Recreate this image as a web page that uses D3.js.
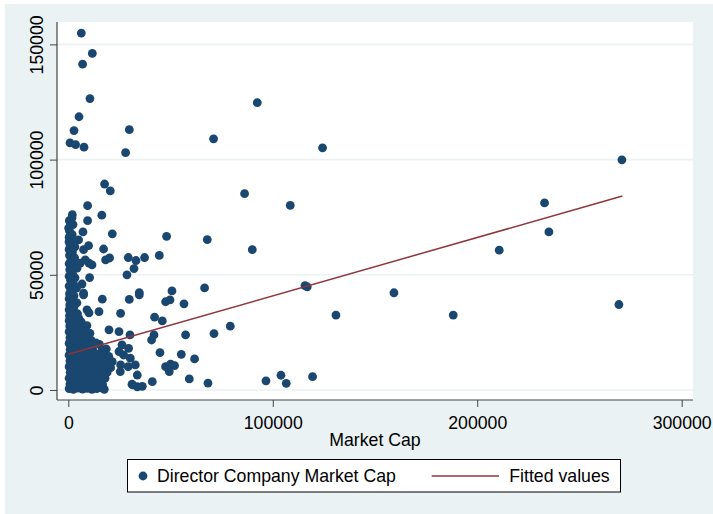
<!DOCTYPE html>
<html>
<head>
<meta charset="utf-8">
<script src="https://cdn.jsdelivr.net/npm/d3@7"></script>
<style>
  html, body { margin: 0; padding: 0; background: #ffffff; }
  svg { display: block; font-family: "Liberation Sans", Arial, sans-serif; }
</style>
</head>
<body>
<div id="chart"></div>
<script>
// [market cap, director company market cap] pairs
// the scattered points outside the crowded corner
const outerPoints = [
  [6360,154900],[11740,146100],[7000,141400],[10600,126500],[5230,118600],[2790,112600],
  [29830,113000],[71050,109000],[830,107300],[3570,106500],[7680,105400],[28020,103000],
  [92420,124700],[124350,105100],[270760,99900],[17750,89400],[20540,86400],[86210,85200],
  [108560,80100],[232910,81200],[9440,80000],[1960,76100],[16380,75900],[1800,74700],
  [9440,73500],[980,72500],[150,70300],[21520,67800],[7190,68600],[48070,66700],
  [67970,65300],[235060,68600],[5040,65200],[340,64300],[9930,62700],[7480,60900],
  [17260,61200],[89980,60900],[210760,60700],[18240,56500],[20200,57300],[29340,57500],
  [33100,56200],[37310,57500],[44500,58400],[8310,56500],[10120,55100],[11590,54300],
  [5870,55100],[32130,52700],[28700,50000],[10420,48800],[6700,46000],[7480,42000],
  [50700,43000],[34720,42300],[66650,44300],[115750,45300],[116870,44800],[16630,39400],
  [29830,39300],[49730,39100],[47580,38300],[56580,37400],[159270,42200],[79220,27700],
  [130900,32500],[188260,32500],[269290,37100],[10120,33500],[15010,34000],[25580,33300],
  [42200,31600],[45970,30000],[19900,26100],[24790,25300],[30170,23900],[41910,23900],
  [40730,21700],[57360,23900],[71250,24500],[44840,16200],[55260,15500],[61760,13500],
  [47580,10100],[50020,11200],[51980,10600],[49390,8000],[33740,6500],[41080,3600],
  [31440,2200],[33740,1400],[36190,1600],[59170,4800],[68310,3000],[96680,4000],
  [104010,6400],[106600,2900],[119460,5800],[25430,8000],[32760,10900],[31150,2500],
  [29490,18100],[27040,15200],[30320,13800],[26260,19600],[21500,12300],[24800,16700],
  [25600,10900],[29300,10100],[9140,34800],[7480,41300],[34720,41300]
];

// the tall column of small market caps
const columnPoints = [
  [500,73500],[2300,71800],[600,69000],[1900,67400],[400,66200],[2600,64600],[900,63000],
  [3200,62100],[400,61000],[2000,59800],[600,58400],[3100,57300],[1200,56100],[400,54800],
  [2500,54000],[4300,52900],[700,52200],[2000,50700],[400,49400],[3300,48700],[1100,47600],
  [2500,46200],[400,45100],[4000,44200],[1500,43300],[600,41800],[2800,40900],[400,39600],
  [1800,38700],[4200,37800],[700,36900],[2700,35900],[400,34800],[1700,33700],[4500,33100],
  [600,32300],[2900,31600],[5200,31000]
];

// the crowded corner near the origin
const cornerPoints = [
  [400,30100],[2200,29800],[4300,30200],[6300,29600],
  [700,27800],[2800,27300],[5000,27700],[7200,27200],[9100,27900],
  [400,25300],[2300,24800],[4500,25200],[6600,24700],[8700,25100],[10600,24600],
  [800,22700],[3000,22300],[5200,22800],[7400,22200],[9600,22600],[11200,21500],
  [400,20200],[2400,19800],[4600,20300],[6800,19700],[9000,20100],[11300,19600],[13600,20400],[15200,19800],
  [900,17600],[3100,17300],[5300,17800],[7500,17200],[9800,17700],[12000,17300],[16500,17400],[18600,17800],
  [400,15100],[2600,14800],[4800,15300],[7000,14700],[9200,15200],[11500,14900],[13800,15400],[16000,14700],[18300,15100],[19800,14600],
  [800,12600],[3000,12300],[5300,12800],[7600,12200],[9900,12700],[12200,12400],[14500,12900],[16800,12300],[19000,12700],[21000,12200],
  [400,10100],[2500,9800],[4700,10300],[7000,9700],[9300,10200],[11600,9900],[13900,10400],[16200,9800],[18500,10200],[20700,9700],
  [900,7600],[3100,7300],[5400,7800],[7700,7200],[10000,7700],[12300,7300],[14600,7800],[16900,7200],[19000,7600],
  [400,5100],[2600,4800],[4900,5300],[7200,4700],[9500,5200],[11800,4900],[14100,5300],[16400,4700],[18000,5100],
  [800,2600],[3000,2300],[5300,2800],[7600,2200],[9900,2700],[12200,2400],[14500,2800],[16800,2300],
  [400,600],[2500,300],[4700,800],[7000,400],[9300,700],[11600,300],[13900,600],[16200,900],[17600,300]
];

// fitted line end points
const fitX = [0, 271000];
const fitY = [15500, 84200];

const xTicks = [0, 100000, 200000, 300000];
const yTicks = [0, 50000, 100000, 150000];
const xTitle = "Market Cap";
const legendLabels = ["Director Company Market Cap", "Fitted values"];

const allPoints = outerPoints.concat(columnPoints, cornerPoints);

// Set up the svg
const width = 713, height = 514;
const plot = {left: 57, right: 693, top: 22, bottom: 400};
const navy = "#1a476f", maroon = "#90353b", bluish = "#eaf2f3";
const fontSize = "17.7px";

const svg = d3.select("#chart").append("svg")
    .attr("width", width)
    .attr("height", height);

// graph region and plot region
svg.append("rect").attr("x", 5).attr("y", 4)
    .attr("width", width - 5).attr("height", height - 4)
    .attr("fill", bluish);
svg.append("rect").attr("x", plot.left).attr("y", plot.top)
    .attr("width", plot.right - plot.left).attr("height", plot.bottom - plot.top)
    .attr("fill", "#ffffff");

const xScale = d3.scaleLinear().domain([0, 300000]).range([68.3, 681.7]);
const yScale = d3.scaleLinear().domain([0, 150000]).range([390, 44.4]);

// horizontal grid lines
svg.append("g").selectAll("line")
    .data(yTicks)
    .enter().append("line")
    .attr("x1", plot.left).attr("x2", plot.right)
    .attr("y1", d => yScale(d)).attr("y2", d => yScale(d))
    .attr("stroke", bluish).attr("stroke-width", 1.6);

// scatter
svg.append("g").selectAll("circle")
    .data(allPoints)
    .enter().append("circle")
    .attr("cx", d => xScale(d[0]))
    .attr("cy", d => yScale(d[1]))
    .attr("r", 4.4)
    .attr("fill", navy);

// fitted values
svg.append("line")
    .attr("x1", xScale(fitX[0])).attr("y1", yScale(fitY[0]))
    .attr("x2", xScale(fitX[1])).attr("y2", yScale(fitY[1]))
    .attr("stroke", maroon).attr("stroke-width", 1.5);

// axes
const axisColor = "#444";
const xAxisGroup = svg.append("g")
    .attr("transform", `translate(0, ${plot.bottom})`)
    .call(d3.axisBottom(xScale).tickValues(xTicks).tickSize(7).tickFormat(d3.format("d")));
xAxisGroup.select(".domain").remove();
xAxisGroup.selectAll(".tick line").attr("stroke", axisColor);
xAxisGroup.selectAll(".tick text")
    .attr("y", 28.7).attr("dy", 0)
    .style("font-size", fontSize).attr("fill", "#000")
    .style("font-family", "Liberation Sans, Arial, sans-serif");

const yAxisGroup = svg.append("g")
    .attr("transform", `translate(${plot.left}, 0)`)
    .call(d3.axisLeft(yScale).tickValues(yTicks).tickSize(7).tickFormat(d3.format("d")));
yAxisGroup.select(".domain").remove();
yAxisGroup.selectAll(".tick line").attr("stroke", axisColor);
yAxisGroup.selectAll(".tick text")
    .attr("transform", "rotate(-90)")
    .attr("x", 0).attr("y", -14.2).attr("dy", 0)
    .attr("text-anchor", "middle")
    .style("font-size", fontSize).attr("fill", "#000")
    .style("font-family", "Liberation Sans, Arial, sans-serif");

// axis lines span the whole plot region
svg.append("line")
    .attr("x1", plot.left).attr("x2", plot.left)
    .attr("y1", plot.top).attr("y2", plot.bottom)
    .attr("stroke", axisColor).attr("stroke-width", 1.2);
svg.append("line")
    .attr("x1", plot.left).attr("x2", plot.right)
    .attr("y1", plot.bottom).attr("y2", plot.bottom)
    .attr("stroke", axisColor).attr("stroke-width", 1.2);

svg.append("text")
    .attr("x", (plot.left + plot.right) / 2).attr("y", 445.7)
    .attr("text-anchor", "middle")
    .style("font-size", fontSize)
    .text(xTitle);

// legend
const legend = svg.append("g");
legend.append("rect")
    .attr("x", 127.5).attr("y", 459.5)
    .attr("width", 493).attr("height", 32.5)
    .attr("fill", "#ffffff").attr("stroke", "#000").attr("stroke-width", 1);
legend.append("circle")
    .attr("cx", 143).attr("cy", 476).attr("r", 4.4).attr("fill", navy);
legend.append("text")
    .attr("x", 157).attr("y", 482.3)
    .style("font-size", fontSize)
    .text(legendLabels[0]);
legend.append("line")
    .attr("x1", 431.7).attr("x2", 499).attr("y1", 476).attr("y2", 476)
    .attr("stroke", maroon).attr("stroke-width", 1.5);
legend.append("text")
    .attr("x", 509.3).attr("y", 482.3)
    .style("font-size", fontSize)
    .text(legendLabels[1]);
</script>
</body>
</html>
